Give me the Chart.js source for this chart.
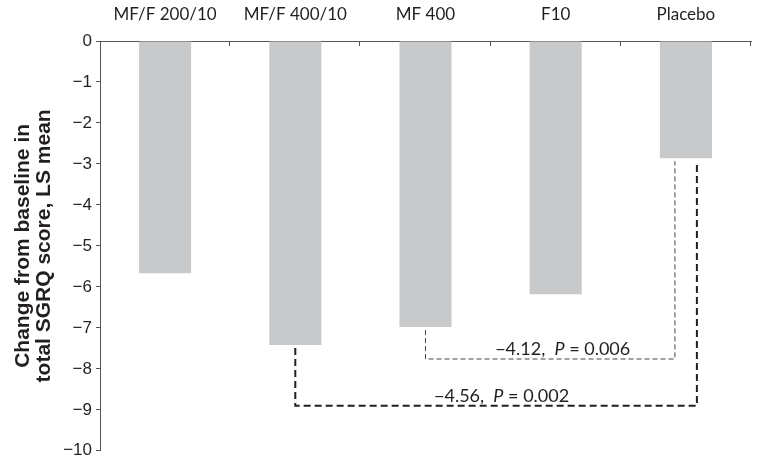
<!DOCTYPE html>
<html>
<head>
<meta charset="utf-8">
<script src="https://cdn.jsdelivr.net/npm/chart.js@4/dist/chart.umd.min.js"></script>
<style>
  html, body { margin: 0; padding: 0; background: #fff; }
  #wrap { width: 758px; height: 465px; }
</style>
</head>
<body>
<div id="wrap"><canvas id="sgrqChart"></canvas></div>
<script>
const categories = ["MF/F 200/10", "MF/F 400/10", "MF 400", "F10", "Placebo"]
const lsMeanChange = [-5.67, -7.42, -6.98, -6.18, -2.86]
const yTicks = [0, -1, -2, -3, -4, -5, -6, -7, -8, -9, -10]

// comparisons vs placebo, bracket drawn at "level" on the y scale
const comparisons = [
    { from: 2, to: 4, level: -7.76, diff: "\u22124.12,", p: "0.006", thick: false },
    { from: 1, to: 4, level: -8.9, diff: "\u22124.56,", p: "0.002", thick: true }
]

const textColor = "#231f20"
const labelFont = "Lato, 'Noto Sans', sans-serif"

const bracketPlugin = {
    id: "brackets",
    afterDatasetsDraw(chart) {
        const ctx = chart.ctx
        const x = chart.scales.x
        const y = chart.scales.y
        const n = categories.length

        // inward tick marks on the top axis
        ctx.save()
        ctx.strokeStyle = "#555"
        ctx.lineWidth = 1
        for (let i = 1; i <= n; i++) {
            const px = Math.round(x.left + i * (x.right - x.left) / n) - 0.5
            ctx.beginPath()
            ctx.moveTo(px, y.top)
            ctx.lineTo(px, y.top + 5)
            ctx.stroke()
        }
        ctx.restore()

        comparisons.forEach(c => {
            const x1 = x.getPixelForValue(c.from)
            const x2 = x.getPixelForValue(c.to) + (c.thick ? 11 : -11)
            const y1 = y.getPixelForValue(lsMeanChange[c.from]) + 3
            const y2 = y.getPixelForValue(lsMeanChange[c.to]) + 3
            const yl = y.getPixelForValue(c.level)

            ctx.save()
            ctx.strokeStyle = c.thick ? "#231f20" : "#444"
            ctx.lineWidth = c.thick ? 2 : 1
            ctx.setLineDash(c.thick ? [7, 4] : [5, 3])
            ctx.beginPath()
            ctx.moveTo(x1, y1)
            ctx.lineTo(x1, yl)
            ctx.lineTo(x2, yl)
            ctx.lineTo(x2, y2)
            ctx.stroke()
            ctx.restore()

            // label: "−4.12,  P = 0.006"
            ctx.save()
            ctx.fillStyle = textColor
            ctx.textBaseline = "alphabetic"
            const size = 18
            const partA = c.diff + "  "
            const partB = "P"
            const partC = " = " + c.p
            ctx.font = size + "px " + labelFont
            const wA = ctx.measureText(partA).width
            const wC = ctx.measureText(partC).width
            ctx.font = "italic " + size + "px " + labelFont
            const wB = ctx.measureText(partB).width
            const total = wA + wB + wC
            const cx = (x.getPixelForValue(c.from) + x.getPixelForValue(c.to)) / 2 + (c.thick ? 11 : 7)
            let tx = cx - total / 2
            const ty = yl - 4
            ctx.font = size + "px " + labelFont
            ctx.fillText(partA, tx, ty)
            tx += wA
            ctx.font = "italic " + size + "px " + labelFont
            ctx.fillText(partB, tx, ty)
            tx += wB
            ctx.font = size + "px " + labelFont
            ctx.fillText(partC, tx, ty)
            ctx.restore()
        })
    }
}

document.addEventListener("DOMContentLoaded", () => {
    new Chart(
        document.getElementById("sgrqChart"),
        {
            type: "bar",
            data: {
                labels: categories,
                datasets: [
                    {
                        data: lsMeanChange,
                        backgroundColor: "#c8c9cb",
                        borderWidth: 0,
                        barPercentage: 0.4,
                        categoryPercentage: 1.0
                    }
                ]
            },
            options: {
                responsive: true,
                maintainAspectRatio: false,
                animation: false,
                layout: {
                    padding: { top: 0, right: 7, bottom: 4, left: 0 }
                },
                plugins: {
                    legend: { display: false },
                    tooltip: { enabled: false }
                },
                scales: {
                    x: {
                        position: "top",
                        offset: true,
                        grid: { display: false },
                        border: { display: true, color: "#555", width: 1 },
                        ticks: {
                            color: textColor,
                            padding: 8,
                            font: { family: labelFont, size: 17 }
                        },
                        afterFit(scale) { scale.height = 41 }
                    },
                    y: {
                        min: -10,
                        max: 0,
                        afterBuildTicks(scale) {
                            scale.ticks = yTicks.map(v => ({ value: v }))
                        },
                        grid: {
                            drawOnChartArea: false,
                            drawTicks: true,
                            tickLength: 4,
                            color: "#555"
                        },
                        border: { display: true, color: "#555", width: 1 },
                        ticks: {
                            color: textColor,
                            padding: 4,
                            font: { family: "'Liberation Sans', Arial, sans-serif", size: 17 },
                            callback: v => v < 0 ? "\u2212" + Math.abs(v) : String(v)
                        },
                        title: {
                            display: true,
                            text: ["Change from baseline in", "total SGRQ score, LS mean"],
                            color: textColor,
                            padding: { top: 13, bottom: 0 },
                            font: { family: "'Liberation Sans', Arial, sans-serif", size: 21, weight: "bold", lineHeight: 1.0 }
                        },
                        afterFit(scale) { scale.width = 100 }
                    }
                }
            },
            plugins: [bracketPlugin]
        }
    )
})
</script>
</body>
</html>
